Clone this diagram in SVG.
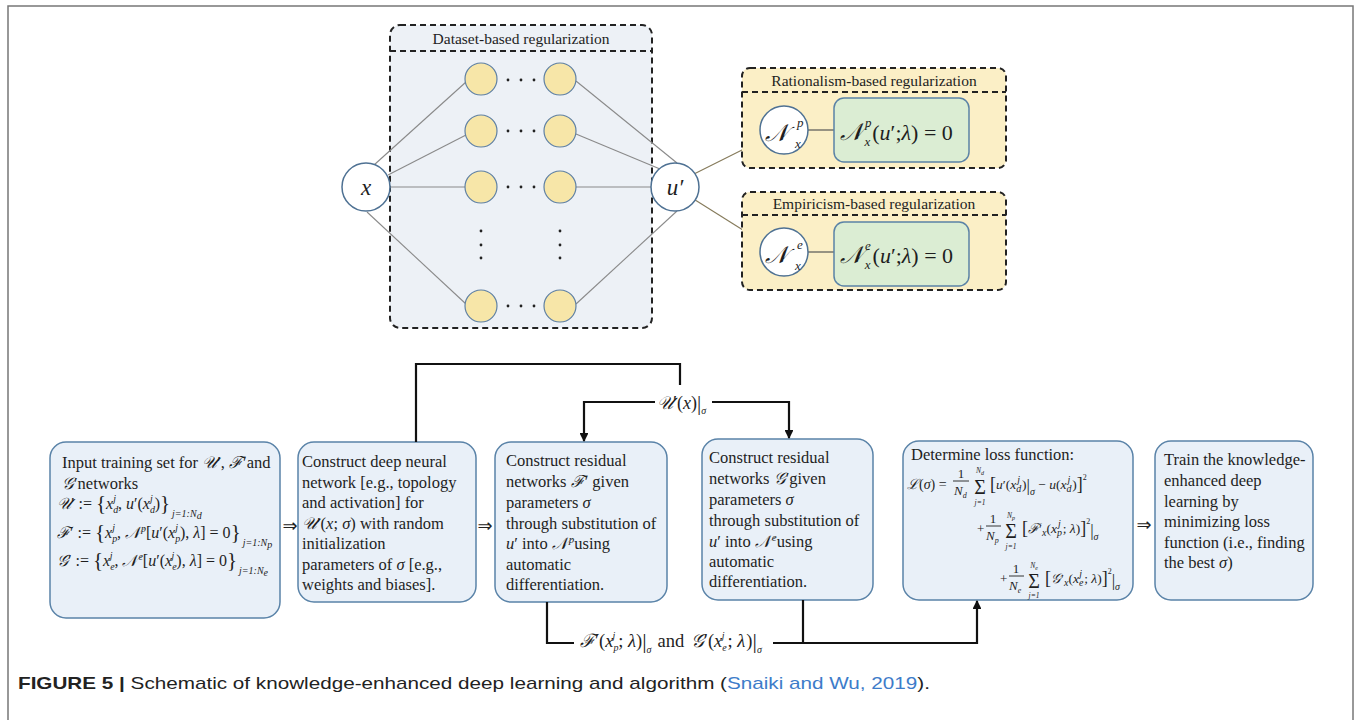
<svg xmlns="http://www.w3.org/2000/svg" width="1356" height="720" viewBox="0 0 1356 720">
<defs>
<style>
.m{font-family:"Liberation Serif","DejaVu Serif",serif;fill:#1e1e1e}
.t{font-family:"Liberation Serif","DejaVu Serif",serif;font-size:16.5px;fill:#1e1e1e}
.i{font-style:italic}
.ss{font-size:10px;font-style:italic}
.hd{font-family:"Liberation Serif","DejaVu Serif",serif;font-size:15.5px;fill:#1e1e1e;text-anchor:middle}
.dash{fill:none;stroke:#222;stroke-width:2;stroke-dasharray:6 4}
.neu{fill:#f7e6a8;stroke:#5f80a3;stroke-width:1.2}
.io{fill:#fff;stroke:#4e7193;stroke-width:1.5}
.nl{stroke:#8a8a8a;stroke-width:1.1;fill:none}
.dot{fill:#222}
.grn{fill:#dbedd3;stroke:#5b83a6;stroke-width:1.5}
.bx{fill:#e9f0f8;stroke:#5a83a8;stroke-width:1.5}
.con{fill:none;stroke:#111;stroke-width:2.2}
.arr{font-family:"DejaVu Sans",sans-serif;font-size:18px;fill:#222;text-anchor:middle}
</style>
<marker id="ah" viewBox="0 0 10 10" refX="9" refY="5" markerWidth="4" markerHeight="4" orient="auto"><path d="M0,0 L10,5 L0,10 z" fill="#111"/></marker>
</defs>
<rect width="1356" height="720" fill="#fff"/>
<g id="frame"><rect x="8" y="6" width="1345" height="740" fill="none" stroke="#777" stroke-width="1.5"/></g>

<g id="dataset-box">
<rect x="390" y="25" width="262" height="303" rx="10" fill="#edf1f6"/>
<rect x="390" y="25" width="262" height="303" rx="10" class="dash"/>
<line x1="390" y1="51" x2="652" y2="51" class="dash"/>
<text class="hd" x="521" y="44">Dataset-based regularization</text>
</g>

<g id="net-lines">
<line class="nl" x1="374" y1="165" x2="466" y2="82"/>
<line class="nl" x1="388" y1="175" x2="466" y2="135"/>
<line class="nl" x1="390" y1="187" x2="465" y2="187"/>
<line class="nl" x1="367" y1="212" x2="466" y2="304"/>
<line class="nl" x1="576" y1="81" x2="677" y2="163"/>
<line class="nl" x1="576" y1="134" x2="660" y2="169"/>
<line class="nl" x1="576" y1="187" x2="651" y2="187"/>
<line class="nl" x1="576" y1="304" x2="677" y2="211"/>
<line x1="690" y1="176" x2="762" y2="140" stroke="#857a5a" stroke-width="1.1"/>
<line x1="692" y1="198" x2="762" y2="242" stroke="#857a5a" stroke-width="1.1"/>
</g>

<g id="neurons">
<circle class="neu" cx="481" cy="79" r="16"/><circle class="neu" cx="560" cy="79" r="16"/>
<circle class="neu" cx="481" cy="131" r="16"/><circle class="neu" cx="560" cy="131" r="16"/>
<circle class="neu" cx="481" cy="187" r="16"/><circle class="neu" cx="560" cy="187" r="16"/>
<circle class="neu" cx="481" cy="306" r="16"/><circle class="neu" cx="560" cy="306" r="16"/>
<circle class="dot" cx="508" cy="80" r="1.4"/><circle class="dot" cx="521" cy="80" r="1.4"/><circle class="dot" cx="534" cy="80" r="1.4"/>
<circle class="dot" cx="508" cy="131" r="1.4"/><circle class="dot" cx="521" cy="131" r="1.4"/><circle class="dot" cx="534" cy="131" r="1.4"/>
<circle class="dot" cx="508" cy="187" r="1.4"/><circle class="dot" cx="521" cy="187" r="1.4"/><circle class="dot" cx="534" cy="187" r="1.4"/>
<circle class="dot" cx="508" cy="306" r="1.4"/><circle class="dot" cx="521" cy="306" r="1.4"/><circle class="dot" cx="534" cy="306" r="1.4"/>
<circle class="dot" cx="481" cy="231" r="1.4"/><circle class="dot" cx="481" cy="245" r="1.4"/><circle class="dot" cx="481" cy="258" r="1.4"/>
<circle class="dot" cx="560" cy="231" r="1.4"/><circle class="dot" cx="560" cy="245" r="1.4"/><circle class="dot" cx="560" cy="258" r="1.4"/>
</g>

<g id="node-x">
<circle class="io" cx="366" cy="187" r="24"/>
<text class="m i" x="366" y="195" font-size="23" text-anchor="middle">x</text>
</g>
<g id="node-u">
<circle class="io" cx="675" cy="187" r="24"/>
<text class="m i" x="675" y="195" font-size="23" text-anchor="middle">u′</text>
</g>

<g id="rationalism">
<rect x="742" y="68" width="264" height="100" rx="8" fill="#fbefc6"/>
<rect x="742" y="68" width="264" height="100" rx="8" class="dash"/>
<line x1="742" y1="92" x2="1006" y2="92" class="dash"/>
<text class="hd" x="874" y="86">Rationalism-based regularization</text>
<line x1="807" y1="130" x2="834" y2="130" stroke="#555" stroke-width="1.2"/>
<circle class="io" cx="784" cy="130" r="24"/>
<text class="m i" x="765" y="141" font-size="24">𝒩</text>
<text class="m i" x="797" y="127" font-size="13">p</text>
<text class="m i" x="795" y="148" font-size="13">x</text>
<rect class="grn" x="834" y="98" width="135" height="64" rx="10"/>
<text class="m" x="840" y="140" font-size="22"><tspan class="i" font-size="24">𝒩</tspan><tspan class="i" font-size="13" dx="2" dy="-13">p</tspan><tspan class="i" font-size="13" dx="-7" dy="19">x</tspan><tspan dx="2" dy="-6">(</tspan><tspan class="i">u</tspan>′;<tspan class="i">λ</tspan>) = 0</text>
</g>

<g id="empiricism">
<rect x="742" y="192" width="264" height="98" rx="8" fill="#fbefc6"/>
<rect x="742" y="192" width="264" height="98" rx="8" class="dash"/>
<line x1="742" y1="215" x2="1006" y2="215" class="dash"/>
<text class="hd" x="874" y="209">Empiricism-based regularization</text>
<line x1="807" y1="252" x2="834" y2="252" stroke="#555" stroke-width="1.2"/>
<circle class="io" cx="784" cy="252" r="24"/>
<text class="m i" x="765" y="263" font-size="24">𝒩</text>
<text class="m i" x="797" y="249" font-size="13">e</text>
<text class="m i" x="795" y="270" font-size="13">x</text>
<rect class="grn" x="834" y="222" width="135" height="64" rx="10"/>
<text class="m" x="840" y="263" font-size="22"><tspan class="i" font-size="24">𝒩</tspan><tspan class="i" font-size="13" dx="2" dy="-13">e</tspan><tspan class="i" font-size="13" dx="-6" dy="19">x</tspan><tspan dx="2" dy="-6">(</tspan><tspan class="i">u</tspan>′;<tspan class="i">λ</tspan>) = 0</text>
</g>

<g id="box1">
<rect class="bx" x="50" y="442" width="230" height="176" rx="16"/>
<text class="t" x="62" y="468">Input training set for <tspan class="i">𝒰</tspan>′, <tspan class="i">ℱ</tspan>′and</text>
<text class="t" x="62" y="489"><tspan class="i">𝒢</tspan>′networks</text>
<text class="m" x="57" y="509" font-size="16"><tspan class="i">𝒰</tspan>′ := <tspan font-size="21" dy="1">{</tspan><tspan class="i" dy="-1">x</tspan><tspan class="ss" dy="4">d</tspan><tspan class="ss" dx="-5" dy="-11">j</tspan><tspan dx="2" dy="7">, </tspan><tspan class="i">u</tspan>′(<tspan class="i">x</tspan><tspan class="ss" dy="4">d</tspan><tspan class="ss" dx="-5" dy="-11">j</tspan><tspan dx="2" dy="7">)</tspan><tspan font-size="21" dy="1">}</tspan><tspan class="ss" font-size="9" dx="2" dy="7">j=1:N</tspan><tspan class="ss" font-size="7" dy="2">d</tspan></text>
<text class="m" x="57" y="538" font-size="16"><tspan class="i">ℱ</tspan>′ := <tspan font-size="21" dy="1">{</tspan><tspan class="i" dy="-1">x</tspan><tspan class="ss" dy="4">p</tspan><tspan class="ss" dx="-5" dy="-11">j</tspan><tspan dx="2" dy="7">, </tspan><tspan class="i">𝒩</tspan><tspan class="ss" dx="1" dy="-6">p</tspan><tspan dy="6">[</tspan><tspan class="i">u</tspan>′(<tspan class="i">x</tspan><tspan class="ss" dy="4">p</tspan><tspan class="ss" dx="-5" dy="-11">j</tspan><tspan dx="2" dy="7">), </tspan><tspan class="i">λ</tspan>] = 0<tspan font-size="21" dy="1">}</tspan><tspan class="ss" font-size="9" dx="2" dy="7">j=1:N</tspan><tspan class="ss" font-size="7" dy="2">p</tspan></text>
<text class="m" x="57" y="566" font-size="16"><tspan class="i">𝒢</tspan>′ := <tspan font-size="21" dy="1">{</tspan><tspan class="i" dy="-1">x</tspan><tspan class="ss" dy="4">e</tspan><tspan class="ss" dx="-5" dy="-11">j</tspan><tspan dx="2" dy="7">, </tspan><tspan class="i">𝒩</tspan><tspan class="ss" dx="1" dy="-6">e</tspan><tspan dy="6">[</tspan><tspan class="i">u</tspan>′(<tspan class="i">x</tspan><tspan class="ss" dy="4">e</tspan><tspan class="ss" dx="-5" dy="-11">j</tspan><tspan dx="2" dy="7">), </tspan><tspan class="i">λ</tspan>] = 0<tspan font-size="21" dy="1">}</tspan><tspan class="ss" font-size="9" dx="2" dy="7">j=1:N</tspan><tspan class="ss" font-size="7" dy="2">e</tspan></text>
</g>

<g id="box2">
<rect class="bx" x="298" y="442" width="178" height="160" rx="16"/>
<text class="t" x="302" y="467">Construct deep neural</text>
<text class="t" x="302" y="488">network [e.g., topology</text>
<text class="t" x="302" y="508">and activation] for</text>
<text class="t" x="302" y="529"><tspan class="i">𝒰</tspan>′(<tspan class="i">x</tspan>; <tspan class="i">σ</tspan>) with random</text>
<text class="t" x="302" y="549">initialization</text>
<text class="t" x="302" y="570">parameters of <tspan class="i">σ</tspan> [e.g.,</text>
<text class="t" x="302" y="590">weights and biases].</text>
</g>

<g id="box3">
<rect class="bx" x="495" y="442" width="172" height="160" rx="16"/>
<text class="t" x="506" y="466">Construct residual</text>
<text class="t" x="506" y="487">networks <tspan class="i">ℱ</tspan>′ given</text>
<text class="t" x="506" y="508">parameters <tspan class="i">σ</tspan></text>
<text class="t" x="506" y="529">through substitution of</text>
<text class="t" x="506" y="549"><tspan class="i">u</tspan>′ into <tspan class="i">𝒩</tspan><tspan class="i" font-size="11" dx="1" dy="-6">p</tspan><tspan dy="6">using</tspan></text>
<text class="t" x="506" y="570">automatic</text>
<text class="t" x="506" y="590">differentiation.</text>
</g>

<g id="box4">
<rect class="bx" x="702" y="439" width="171" height="161" rx="16"/>
<text class="t" x="709" y="463">Construct residual</text>
<text class="t" x="709" y="484">networks <tspan class="i">𝒢</tspan>′given</text>
<text class="t" x="709" y="505">parameters <tspan class="i">σ</tspan></text>
<text class="t" x="709" y="526">through substitution of</text>
<text class="t" x="709" y="547"><tspan class="i">u</tspan>′ into <tspan class="i">𝒩</tspan><tspan class="i" font-size="11" dx="1" dy="-6">e</tspan><tspan dy="6">using</tspan></text>
<text class="t" x="709" y="567">automatic</text>
<text class="t" x="709" y="587">differentiation.</text>
</g>

<g id="box5">
<rect class="bx" x="903" y="441" width="230" height="159" rx="16"/>
<text class="t" x="911" y="460">Determine loss function:</text>
<text class="m" x="907" y="489" font-size="14"><tspan class="i">ℒ</tspan>(<tspan class="i">σ</tspan>) =</text>
<text class="m" x="961" y="478" font-size="13" text-anchor="middle">1</text>
<line x1="953" y1="481" x2="969" y2="481" stroke="#1e1e1e" stroke-width="0.9"/>
<text class="m i" x="954" y="495" font-size="13">N<tspan font-size="8" dy="3">d</tspan></text>
<text class="m" x="980" y="494" font-size="20" text-anchor="middle">Σ</text>
<text class="m i" x="980" y="473" font-size="7.5" text-anchor="middle">N<tspan font-size="6" dy="2">d</tspan></text>
<text class="m i" x="980" y="505" font-size="7.5" text-anchor="middle">j=1</text>
<text class="m" x="990" y="489" font-size="13.5"><tspan font-size="18" dy="1">[</tspan><tspan class="i" dy="-1">u</tspan>′(<tspan class="i">x</tspan><tspan class="ss" font-size="8" dy="3">d</tspan><tspan class="ss" font-size="8" dx="-4" dy="-9">j</tspan><tspan dx="2" dy="6">)</tspan><tspan font-size="17" dy="2">|</tspan><tspan class="ss" font-size="7" dy="4">σ</tspan><tspan dy="-6"> − </tspan><tspan class="i">u</tspan>(<tspan class="i">x</tspan><tspan class="ss" font-size="8" dy="3">d</tspan><tspan class="ss" font-size="8" dx="-4" dy="-9">j</tspan><tspan dx="2" dy="6">)</tspan><tspan font-size="18" dy="1">]</tspan><tspan font-size="8" dy="-10">2</tspan></text>

<text class="m" x="977" y="533" font-size="13">+</text>
<text class="m" x="993" y="523" font-size="13" text-anchor="middle">1</text>
<line x1="986" y1="526" x2="1001" y2="526" stroke="#1e1e1e" stroke-width="0.9"/>
<text class="m i" x="986" y="540" font-size="13">N<tspan font-size="8" dy="3">p</tspan></text>
<text class="m" x="1011" y="538" font-size="20" text-anchor="middle">Σ</text>
<text class="m i" x="1011" y="518" font-size="7.5" text-anchor="middle">N<tspan font-size="6" dy="2">p</tspan></text>
<text class="m i" x="1011" y="549" font-size="7.5" text-anchor="middle">j=1</text>
<text class="m" x="1022" y="533" font-size="13.5"><tspan font-size="18" dy="1">[</tspan><tspan class="i" dy="-1">ℱ</tspan>′<tspan class="ss" font-size="8" dy="3">x</tspan><tspan dy="-3">(</tspan><tspan class="i">x</tspan><tspan class="ss" font-size="8" dy="3">p</tspan><tspan class="ss" font-size="8" dx="-4" dy="-9">j</tspan><tspan dx="2" dy="6">; </tspan><tspan class="i">λ</tspan>)<tspan font-size="18" dy="1">]</tspan><tspan font-size="8" dy="-10">2</tspan><tspan font-size="17" dy="12">|</tspan><tspan class="ss" font-size="7" dy="4">σ</tspan></text>

<text class="m" x="1000" y="583" font-size="13">+</text>
<text class="m" x="1016" y="573" font-size="13" text-anchor="middle">1</text>
<line x1="1009" y1="576" x2="1024" y2="576" stroke="#1e1e1e" stroke-width="0.9"/>
<text class="m i" x="1009" y="590" font-size="13">N<tspan font-size="8" dy="3">e</tspan></text>
<text class="m" x="1034" y="588" font-size="20" text-anchor="middle">Σ</text>
<text class="m i" x="1034" y="568" font-size="7.5" text-anchor="middle">N<tspan font-size="6" dy="2">e</tspan></text>
<text class="m i" x="1034" y="598" font-size="7.5" text-anchor="middle">j=1</text>
<text class="m" x="1045" y="583" font-size="13.5"><tspan font-size="18" dy="1">[</tspan><tspan class="i" dy="-1">𝒢</tspan>′<tspan class="ss" font-size="8" dy="3">x</tspan><tspan dy="-3">(</tspan><tspan class="i">x</tspan><tspan class="ss" font-size="8" dy="3">e</tspan><tspan class="ss" font-size="8" dx="-4" dy="-9">j</tspan><tspan dx="2" dy="6">; </tspan><tspan class="i">λ</tspan>)<tspan font-size="18" dy="1">]</tspan><tspan font-size="8" dy="-10">2</tspan><tspan font-size="17" dy="12">|</tspan><tspan class="ss" font-size="7" dy="4">σ</tspan></text>
</g>

<g id="box6">
<rect class="bx" x="1155" y="441" width="158" height="159" rx="16"/>
<text class="t" x="1164" y="465">Train the knowledge-</text>
<text class="t" x="1164" y="486">enhanced deep</text>
<text class="t" x="1164" y="507">learning by</text>
<text class="t" x="1164" y="527">minimizing loss</text>
<text class="t" x="1164" y="548">function (i.e., finding</text>
<text class="t" x="1164" y="568">the best <tspan class="i">σ</tspan>)</text>
</g>

<g id="connectors">
<text class="arr" x="290" y="532">⇒</text>
<text class="arr" x="485" y="532">⇒</text>
<text class="arr" x="1144" y="531">⇒</text>
<path class="con" d="M416,442 V364 H680 V385"/>
<path class="con" d="M655,402 H584 V441" marker-end="url(#ah)"/>
<path class="con" d="M712,402 H789 V438" marker-end="url(#ah)"/>
<path class="con" d="M547,602 V643 H574"/>
<path class="con" d="M773,643 H977 V601" marker-end="url(#ah)"/>
<path class="con" d="M803,600 V643"/>
<text class="m" x="657" y="409" font-size="18"><tspan class="i">𝒰</tspan>′(<tspan class="i">x</tspan>)<tspan font-size="21" dy="1">|</tspan><tspan class="ss" font-size="9" dy="4">σ</tspan></text>
<text class="m" x="580" y="647" font-size="18.5"><tspan class="i">ℱ</tspan>′(<tspan class="i">x</tspan><tspan class="ss" font-size="11" dy="4">p</tspan><tspan class="ss" font-size="11" dx="-6" dy="-12">j</tspan><tspan dx="3" dy="8">; </tspan><tspan class="i">λ</tspan>)<tspan font-size="22" dy="1">|</tspan><tspan class="ss" dy="5">σ</tspan><tspan dx="6" dy="-6">and </tspan><tspan class="i" dx="2">𝒢</tspan>′(<tspan class="i">x</tspan><tspan class="ss" font-size="11" dy="4">e</tspan><tspan class="ss" font-size="11" dx="-5" dy="-12">j</tspan><tspan dx="3" dy="8">; </tspan><tspan class="i">λ</tspan><tspan dx="1">)</tspan><tspan font-size="22" dy="1">|</tspan><tspan class="ss" dy="5">σ</tspan></text>
</g>

<g id="caption">
<text x="18" y="689" font-family="'Liberation Sans',Arial,sans-serif" font-size="17" fill="#222" textLength="912" lengthAdjust="spacingAndGlyphs"><tspan font-weight="bold">FIGURE 5 |</tspan> Schematic of knowledge-enhanced deep learning and algorithm (<tspan fill="#3d7cc9">Snaiki and Wu, 2019</tspan>).</text>
</g>
</svg>
